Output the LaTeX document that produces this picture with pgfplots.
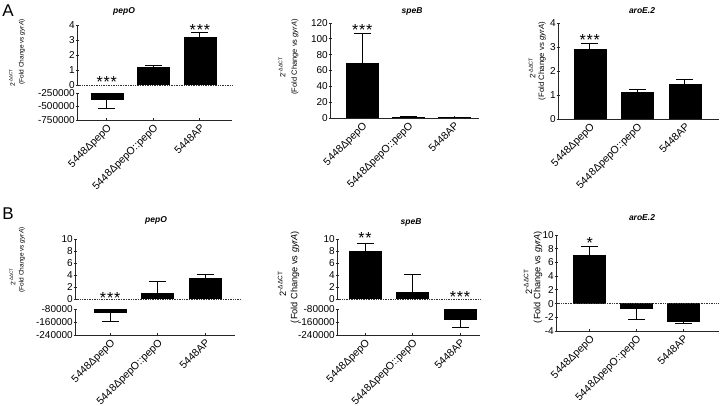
\documentclass[border=0pt]{standalone}
\usepackage{fontspec}
\setmainfont{Liberation Sans}
\usepackage{pgfplots}
\pgfplotsset{compat=1.18}
\pgfplotsset{
  prism/.style={
    scale only axis,
    anchor=north west,
    scaled y ticks=false,
    tick style={line width=0.9pt, black!85},
    tick align=outside,
    major tick length=3pt,
    yticklabel style={font=\fontsize{10}{10}\selectfont, inner sep=0.5pt},
    xticklabel style={font=\fontsize{10.5}{10.5}\selectfont, rotate=45, anchor=north east, inner sep=1pt},
    clip mode=individual,
  },
  plower/.style={axis x line=bottom, axis y line=left, xtick={0,1,2},
    xticklabels={5448ΔpepO, 5448ΔpepO::pepO, 5448AP},
    axis line style={-, line width=0.9pt, black!85}},
  pupper/.style={axis y line=left, axis x line=none, xtick=\empty,
    axis line style={-, line width=0.9pt, black!85}},
  pbar/.style={ybar, bar shift=0pt, bar width=32pt, fill=black, draw=black, line width=0.5pt},
  eup/.style={error bars/y dir=plus, error bars/y explicit,
    error bars/error bar style={line width=1pt,black},
    error bars/error mark options={rotate=90, line width=1pt, black, mark size=8.5pt}},
  edn/.style={error bars/y dir=minus, error bars/y explicit,
    error bars/error bar style={line width=1pt,black},
    error bars/error mark options={rotate=90, line width=1pt, black, mark size=8.5pt}},
}
\tikzset{ast/.style={font=\fontsize{16}{16}\selectfont, inner sep=0pt, yshift=-3.5pt},
  zline/.style={densely dotted, line width=0.7pt, black!80},
  ttl/.style={font=\bfseries\itshape\fontsize{8.5}{8.5}\selectfont},
  yl/.style={rotate=90, inner sep=0pt}}
\newcommand{\aaa}{*\kern0.8pt*\kern0.8pt*}
\begin{document}
\begin{tikzpicture}
\useasboundingbox (0,0) rectangle (720pt,406pt);
% ---------------- A1 pepO ----------------
\begin{axis}[prism, pupper, at={(77pt,381pt)}, width=155pt, height=60pt,
  xmin=-0.64, xmax=2.69, ymin=0, ymax=4, ytick={0,1,2,3,4}, yticklabels={0,1,2,3,4}]
\addplot[pbar, eup] coordinates {(1,1.18) +- (0,0.15)};
\addplot[pbar, eup] coordinates {(2,3.2) +- (0,0.28)};
\draw[zline] (axis cs:-0.64,0) -- (axis cs:2.69,0);
\node[ast] at (axis cs:0,0.4) {\aaa};
\node[ast] at (axis cs:2,3.87) {\aaa};
\end{axis}
\begin{axis}[prism, plower, at={(77pt,313pt)}, width=155pt, height=27pt,
  xmin=-0.64, xmax=2.69, ymin=-750000, ymax=-250000,
  ytick={-750000,-500000,-250000}, yticklabels={-750000,-500000,-250000}]
\addplot[pbar, edn] coordinates {(0,-361000) +- (0,185000)};
\end{axis}
% ---------------- A2 speB ----------------
\begin{axis}[prism, plower, at={(330pt,383pt)}, width=149pt, height=95pt,
  xmin=-0.70, xmax=2.54, ymin=0, ymax=120, ytick={0,20,40,60,80,100,120},
  yticklabels={0,20,40,60,80,100,120}]
\addplot[pbar, eup] coordinates {(0,69) +- (0,38)};
\addplot[pbar, eup] coordinates {(1,1.5) +- (0,0.2)};
\addplot[pbar, eup] coordinates {(2,0.9) +- (0,0.1)};
\node[ast] at (axis cs:0,115) {\aaa};
\end{axis}
% ---------------- A3 aroE.2 ----------------
\begin{axis}[prism, plower, at={(558pt,383pt)}, width=161pt, height=96pt,
  xmin=-0.67, xmax=2.72, ymin=0, ymax=4, ytick={0,1,2,3,4}, yticklabels={0,1,2,3,4}]
\addplot[pbar, eup] coordinates {(0,2.89) +- (0,0.25)};
\addplot[pbar, eup] coordinates {(1,1.11) +- (0,0.10)};
\addplot[pbar, eup] coordinates {(2,1.43) +- (0,0.21)};
\node[ast] at (axis cs:0,3.43) {\aaa};
\end{axis}
% ---------------- B1 pepO ----------------
\begin{axis}[prism, pupper, at={(75pt,167pt)}, width=160pt, height=60pt,
  xmin=-0.74, xmax=2.63, ymin=0, ymax=10, ytick={0,2,4,6,8,10}, yticklabels={0,2,4,6,8,10}]
\addplot[pbar, eup] coordinates {(1,1.0) +- (0,1.85)};
\addplot[pbar, eup] coordinates {(2,3.5) +- (0,0.5)};
\draw[zline] (axis cs:-0.74,0) -- (axis cs:2.74,0);
\node[ast] at (axis cs:0,0.83) {\aaa};
\end{axis}
\begin{axis}[prism, plower, at={(75pt,97pt)}, width=160pt, height=26pt,
  xmin=-0.74, xmax=2.63, ymin=-240000, ymax=-80000,
  ytick={-240000,-160000,-80000}, yticklabels={-240000,-160000,-80000}]
\addplot[pbar, edn] coordinates {(0,-103000) +- (0,55000)};
\end{axis}
% ---------------- B2 speB ----------------
\begin{axis}[prism, pupper, at={(337pt,167pt)}, width=143pt, height=60pt,
  xmin=-0.59, xmax=2.42, ymin=0, ymax=10, ytick={0,2,4,6,8,10}, yticklabels={0,2,4,6,8,10}]
\addplot[pbar, eup] coordinates {(0,7.9) +- (0,1.3)};
\addplot[pbar, eup] coordinates {(1,1.2) +- (0,2.8)};
\draw[zline] (axis cs:-0.59,0) -- (axis cs:2.42,0);
\node[ast] at (axis cs:0,10.7) {*\kern0.8pt*};
\node[ast] at (axis cs:2,1.0) {\aaa};
\end{axis}
\begin{axis}[prism, plower, at={(337pt,97pt)}, width=143pt, height=26pt,
  xmin=-0.59, xmax=2.42, ymin=-240000, ymax=-80000,
  ytick={-240000,-160000,-80000}, yticklabels={-240000,-160000,-80000}]
\addplot[pbar, edn] coordinates {(2,-143000) +- (0,52000)};
\end{axis}
% ---------------- B3 aroE.2 ----------------
\begin{axis}[prism, plower, at={(556pt,171pt)}, width=163pt, height=96pt,
  xmin=-0.72, xmax=2.77, ymin=-4, ymax=10, ytick={-4,-2,0,2,4,6,8,10},
  yticklabels={-4,-2,0,2,4,6,8,10}]
\addplot[pbar, eup] coordinates {(0,7.1) +- (0,1.2)};
\addplot[pbar, edn] coordinates {(1,-0.65) +- (0,1.65)};
\addplot[pbar, edn] coordinates {(2,-2.55) +- (0,0.38)};
\draw[zline] (axis cs:-0.72,0) -- (axis cs:2.77,0);
\node[ast] at (axis cs:0,9.3) {*};
\end{axis}
% ---------------- texts ----------------
\node[font=\fontsize{17}{17}\selectfont] at (8pt,395pt) {A};
\node[font=\fontsize{17}{17}\selectfont] at (8pt,192pt) {B};
\node[ttl] at (124pt,395pt) {pepO};
\node[ttl] at (412pt,395pt) {speB};
\node[ttl] at (642pt,395pt) {aroE.2};
\node[ttl] at (156pt,186pt) {pepO};
\node[ttl] at (411pt,184pt) {speB};
\node[ttl] at (642pt,188pt) {aroE.2};
% y labels
\node[yl, font=\fontsize{6.5}{6.5}\selectfont] at (22pt,354pt) {(Fold Change vs \textit{gyrA})};
\node[yl, font=\fontsize{6.5}{6.5}\selectfont] at (12pt,328pt) {2\textsuperscript{-ΔΔCT}};
\node[yl, font=\fontsize{7.5}{7.5}\selectfont] at (295pt,349pt) {(Fold Change vs \textit{gyrA})};
\node[yl, font=\fontsize{7.5}{7.5}\selectfont] at (282pt,339pt) {2\textsuperscript{-ΔΔCT}};
\node[yl, font=\fontsize{7.8}{7.8}\selectfont] at (542pt,345pt) {(Fold Change vs \textit{gyrA})};
\node[yl, font=\fontsize{7.8}{7.8}\selectfont] at (532pt,338pt) {2\textsuperscript{-ΔΔCT}};
\node[yl, font=\fontsize{6.5}{6.5}\selectfont] at (22pt,146pt) {(Fold Change vs \textit{gyrA})};
\node[yl, font=\fontsize{6.5}{6.5}\selectfont] at (12.5pt,129pt) {2\textsuperscript{-ΔΔCT}};
\node[yl, font=\fontsize{9.2}{9.2}\selectfont] at (295pt,129pt) {(Fold Change vs \textit{gyrA})};
\node[yl, font=\fontsize{9.2}{9.2}\selectfont] at (282pt,122pt) {2\textsuperscript{-ΔΔCT}};
\node[yl, font=\fontsize{9.2}{9.2}\selectfont] at (538pt,129pt) {(Fold Change vs \textit{gyrA})};
\node[yl, font=\fontsize{9.2}{9.2}\selectfont] at (528pt,124pt) {2\textsuperscript{-ΔΔCT}};
\end{tikzpicture}
\end{document}
